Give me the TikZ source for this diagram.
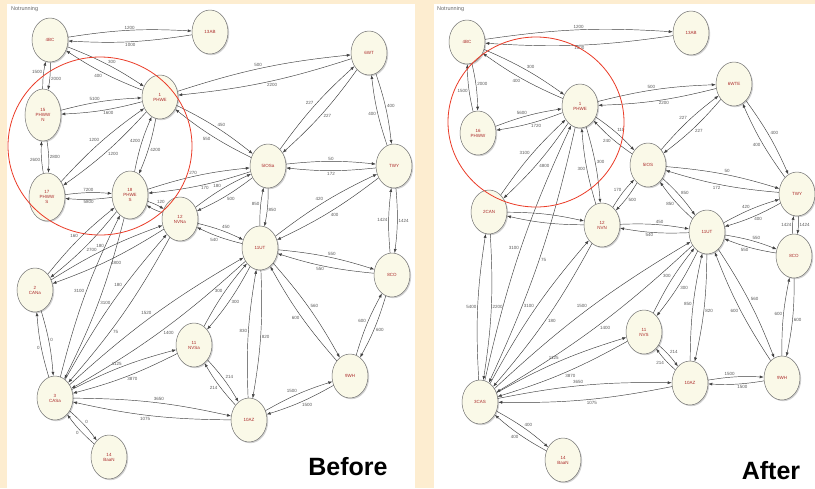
\documentclass[tikz,border=0pt]{standalone}
\usepackage{fontspec}
\setmainfont{Liberation Sans}
\usetikzlibrary{shapes.geometric,arrows.meta,shadows}
\definecolor{peach}{RGB}{253,237,208}
\definecolor{cream}{RGB}{250,249,232}
\definecolor{nred}{RGB}{170,40,40}
\definecolor{rcirc}{RGB}{235,60,40}
\tikzset{
 st/.style={ellipse, draw=black!55, line width=0.5pt, fill=cream, minimum width=36pt, minimum height=44pt, inner sep=0pt, text=nred, font=\fontsize{4.5}{5}\selectfont, align=center, drop shadow={shadow xshift=1.2pt, shadow yshift=-1.2pt, opacity=0.35}},
 e/.style={-{Latex[length=4pt,width=3pt]}, draw=black!75, line width=0.45pt, bend left=6},
 lb/.style={auto, font=\fontsize{4.5}{5}\selectfont, text=black!65, inner sep=1pt},
 captxt/.style={font=\fontsize{25}{28}\selectfont\bfseries, text=black},
 hdr/.style={font=\fontsize{5.5}{6}\selectfont, text=black!60, anchor=north west, inner sep=0pt},
}
\newcommand\pr[5][0.5]{\draw[e] (#2) to node[lb,pos=#1]{#4} (#3); \draw[e] (#3) to node[lb,pos=#1]{#5} (#2);}
\begin{document}
\begin{tikzpicture}[x=1pt,y=-1pt]
\fill[peach] (0,0) rectangle (815,488);
\useasboundingbox (0,0) rectangle (815,488);
\fill[white] (7,4) rectangle (415,488);
\fill[white] (434,4) rectangle (815,488);
\node[hdr] (hl) at (11,6) {Notrunning};
\node[hdr] (hr) at (437,6) {Notrunning};
% ---------- left panel nodes
\node[st] (L4BC) at (50,40) {4BC};
\node[st] (L13AB) at (210,32) {13AB};
\node[st,minimum height=52pt] (L15) at (43,115) {15\\PHWW\\N};
\node[st] (L1) at (160,97) {1\\PHWE};
\node[st] (L6) at (369,53) {6WT};
\node[st,minimum height=48pt] (L17) at (47,197) {17\\PHWW\\S};
\node[st,minimum height=48pt] (L18) at (130,195) {18\\PHWE\\S};
\node[st] (L5) at (268,166) {5IOSa};
\node[st] (LTWY) at (394,166) {TWY};
\node[st] (L12) at (180,219) {12\\NVNa};
\node[st] (L11UT) at (260,248) {11UT};
\node[st] (L2) at (35,290) {2\\CANa};
\node[st] (L8CO) at (392,275) {8CO};
\node[st] (L11N) at (194,345) {11\\NVSa};
\node[st] (L9WH) at (350,376) {9WH};
\node[st] (L3) at (55,398) {3\\CASa};
\node[st] (L10AZ) at (249,420) {10AZ};
\node[st] (L14) at (109,457) {14\\BaaN};
% ---------- left panel edges
\pr{L4BC}{L13AB}{1200}{1000}
\pr{L4BC}{L1}{300}{400}
\pr{L4BC}{L15}{2000}{1500}
\pr{L15}{L1}{5100}{1600}
\pr{L15}{L17}{2800}{2600}
\pr{L17}{L1}{1200}{1200}
\pr{L18}{L1}{4200}{4200}
\pr{L17}{L18}{7200}{5800}
\pr{L1}{L6}{500}{2200}
\pr{L1}{L5}{450}{550}
\pr{L6}{L5}{227}{227}
\pr{L6}{LTWY}{400}{400}
\pr{L5}{LTWY}{50}{172}
\pr{L5}{L11UT}{850}{850}
\pr{LTWY}{L11UT}{400}{420}
\pr{LTWY}{L8CO}{1424}{1424}
\pr{L11UT}{L8CO}{550}{550}
\pr{L12}{L11UT}{450}{540}
\pr{L18}{L5}{270}{170}
\pr{L5}{L12}{500}{180}
\pr{L18}{L12}{120}{}
\pr{L18}{L2}{2700}{160}
\pr{L12}{L2}{4800}{180}
\pr{L2}{L3}{0}{0}
\pr{L18}{L3}{3100}{3100}
\pr[0.62]{L12}{L3}{75}{180}
\pr{L11UT}{L3}{1400}{1520}
\pr{L3}{L11N}{1125}{3870}
\pr{L10AZ}{L3}{1075}{3650}
\pr{L3}{L14}{0}{0}
\pr{L11UT}{L11N}{300}{300}
\pr{L11N}{L10AZ}{214}{214}
\pr{L10AZ}{L11UT}{830}{820}
\pr{L10AZ}{L9WH}{1500}{1500}
\pr{L11UT}{L9WH}{560}{600}
\pr{L8CO}{L9WH}{600}{600}
% ---------- right panel nodes
\node[st] (R4BC) at (467,42) {4BC};
\node[st] (R13AB) at (691,33) {13AB};
\node[st] (R16) at (478,133) {16\\PHWW};
\node[st] (R1) at (580,106) {1\\PHWE};
\node[st] (R6) at (734,84) {6WTE};
\node[st] (R5) at (648,165) {5IOS};
\node[st] (RTWY) at (797,194) {TWY};
\node[st] (R3CAN) at (489,212) {2CAN};
\node[st] (R12) at (602,225) {12\\NVN};
\node[st] (R11UT) at (707,232) {11UT};
\node[st] (R8CO) at (794,256) {8CO};
\node[st] (R11N) at (644,332) {11\\NVS};
\node[st] (R10AZ) at (690,383) {10AZ};
\node[st] (R9WH) at (782,378) {9WH};
\node[st] (R3CAS) at (480,402) {3CAS};
\node[st] (R14) at (563,460) {14\\BaaN};
% ---------- right panel edges
\pr{R4BC}{R13AB}{1200}{1000}
\pr{R4BC}{R1}{300}{400}
\pr{R4BC}{R16}{2000}{1500}
\pr{R16}{R1}{5600}{1720}
\pr{R1}{R6}{500}{2200}
\pr{R1}{R5}{110}{240}
\pr{R6}{R5}{227}{227}
\pr{R6}{RTWY}{400}{400}
\pr{R5}{RTWY}{50}{172}
\pr{R5}{R12}{500}{170}
\pr{R5}{R11UT}{850}{850}
\pr{RTWY}{R11UT}{400}{420}
\pr{RTWY}{R8CO}{1424}{1424}
\pr{R11UT}{R8CO}{550}{550}
\pr{R12}{R11UT}{450}{540}
\pr{R1}{R12}{300}{300}
\pr{R1}{R3CAN}{4800}{3100}
\pr{R3CAN}{R12}{}{}
\pr{R1}{R3CAS}{75}{3100}
\pr{R12}{R3CAS}{180}{3100}
\pr{R3CAN}{R3CAS}{2200}{5400}
\pr{R11UT}{R3CAS}{1400}{1500}
\pr{R3CAS}{R11N}{1125}{3870}
\pr{R10AZ}{R3CAS}{1075}{3650}
\pr{R3CAS}{R14}{400}{400}
\pr{R11UT}{R11N}{300}{300}
\pr{R11N}{R10AZ}{214}{214}
\pr{R10AZ}{R11UT}{850}{820}
\pr{R10AZ}{R9WH}{1500}{1500}
\pr{R11UT}{R9WH}{560}{600}
\pr{R8CO}{R9WH}{600}{600}
% ---------- highlight circles and captions
\draw[rcirc, line width=0.8pt] (100,146) ellipse [x radius=92, y radius=89];
\draw[rcirc, line width=0.8pt] (536,122) ellipse [x radius=88, y radius=85];
\node[captxt] (before) at (348,467) {Before};
\node[captxt] (after) at (771,471) {After};
\end{tikzpicture}
\end{document}
